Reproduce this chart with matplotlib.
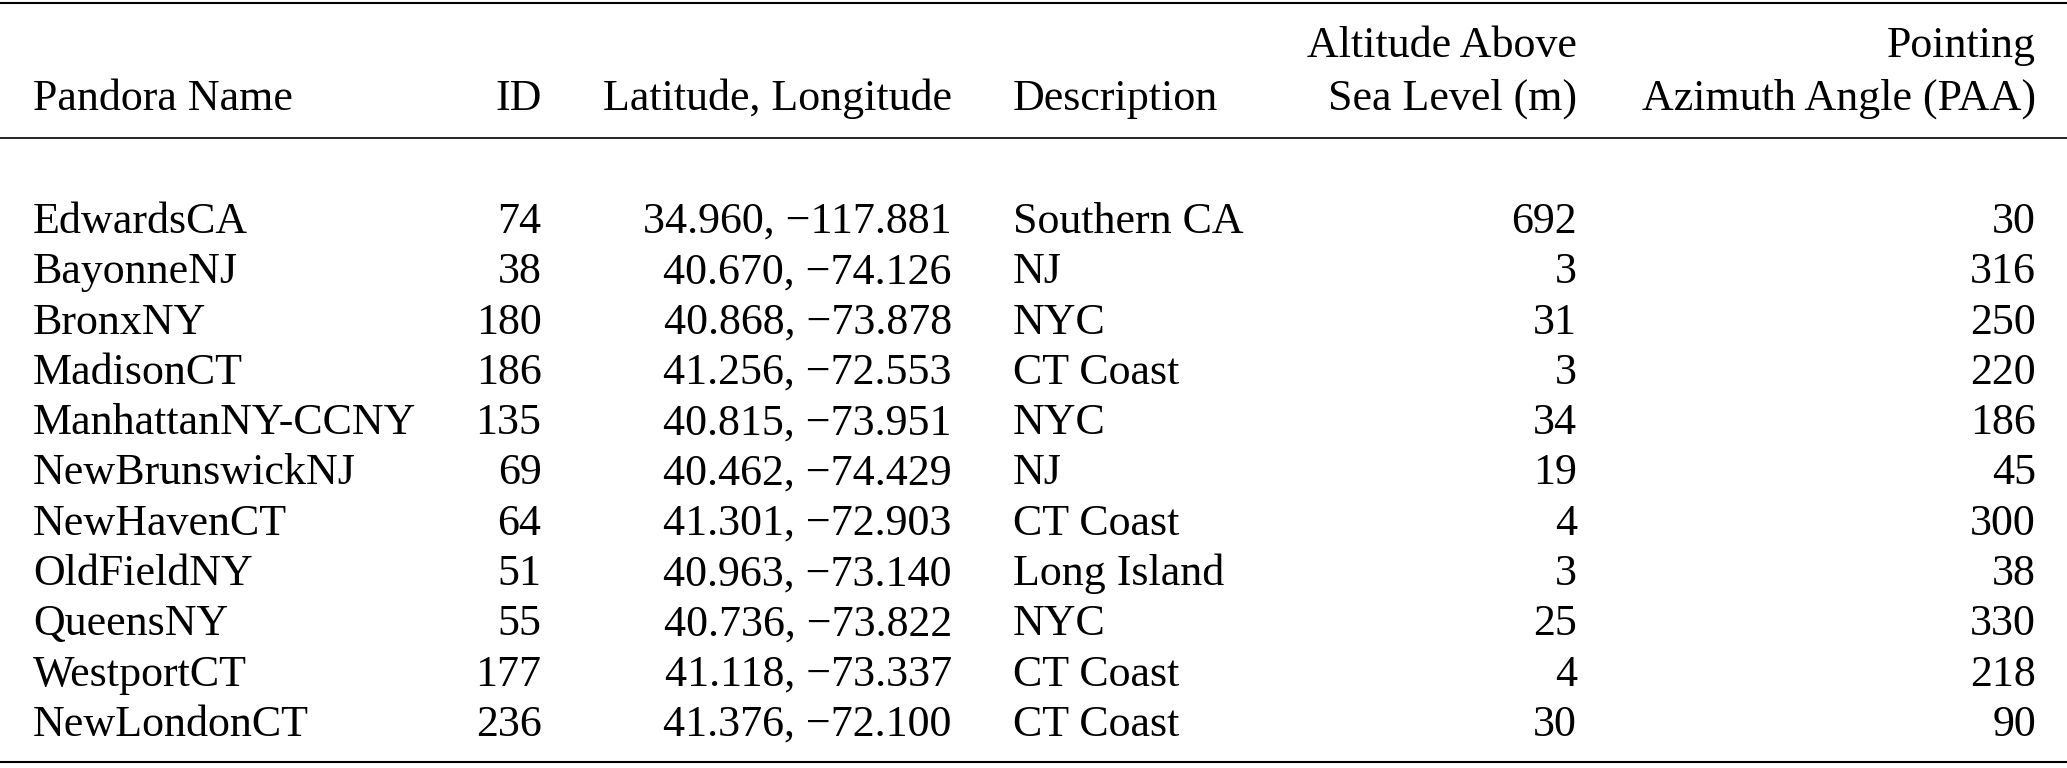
import matplotlib
matplotlib.use('Agg')
import matplotlib.pyplot as plt

# Table data
names = ['EdwardsCA', 'BayonneNJ', 'BronxNY', 'MadisonCT', 'ManhattanNY-CCNY',
         'NewBrunswickNJ', 'NewHavenCT', 'OldFieldNY', 'QueensNY', 'WestportCT',
         'NewLondonCT']
ids = [74, 38, 180, 186, 135, 69, 64, 51, 55, 177, 236]
lats = [34.960, 40.670, 40.868, 41.256, 40.815, 40.462, 41.301, 40.963, 40.736, 41.118, 41.376]
lons = [-117.881, -74.126, -73.878, -72.553, -73.951, -74.429, -72.903, -73.140, -73.822, -73.337, -72.100]
descriptions = ['Southern CA', 'NJ', 'NYC', 'CT Coast', 'NYC', 'NJ', 'CT Coast',
                'Long Island', 'NYC', 'CT Coast', 'CT Coast']
altitudes = [692, 3, 31, 3, 34, 19, 4, 3, 25, 4, 30]
paa = [30, 316, 250, 220, 186, 45, 300, 38, 330, 218, 90]

headers = [('Pandora Name', 'left'), ('ID', 'right'), ('Latitude, Longitude', 'right'),
           ('Description', 'left'), ('Altitude Above\nSea Level (m)', 'right'),
           ('Pointing\nAzimuth Angle (PAA)', 'right')]

plt.rcParams['font.family'] = ['Liberation Serif', 'DejaVu Serif']
fs = 31.7

fig = plt.figure(figsize=(20.67, 7.68), dpi=100)
ax = fig.add_axes([0, 0, 1, 1])
ax.set_xlim(0, 1)
ax.set_ylim(1, 0)
ax.axis('off')

col_x = [0.016, 0.262, 0.4605, 0.490, 0.763, 0.985]

# rules
ax.axhline(0.004, color='black', lw=1.5)
ax.axhline(0.180, color='black', lw=1.2)
ax.axhline(0.992, color='black', lw=1.5)

# header
for (h, ha), x in zip(headers, col_x):
    ax.text(x, 0.143, h, ha=ha, va='baseline', fontsize=fs, linespacing=1.42,
            multialignment=ha)

def fmt(v):
    s = f'{v:.3f}'
    return s.replace('-', '\u2212')

row_y0 = 0.289
row_dy = (0.944 - 0.289) / 10
for i in range(len(names)):
    y = row_y0 + i * row_dy
    cells = [names[i], str(ids[i]), f'{fmt(lats[i])}, {fmt(lons[i])}',
             descriptions[i], str(altitudes[i]), str(paa[i])]
    for (h, ha), x, c in zip(headers, col_x, cells):
        ax.text(x, y, c, ha=ha, va='center', fontsize=fs)

fig.savefig('out.png', dpi=100)
